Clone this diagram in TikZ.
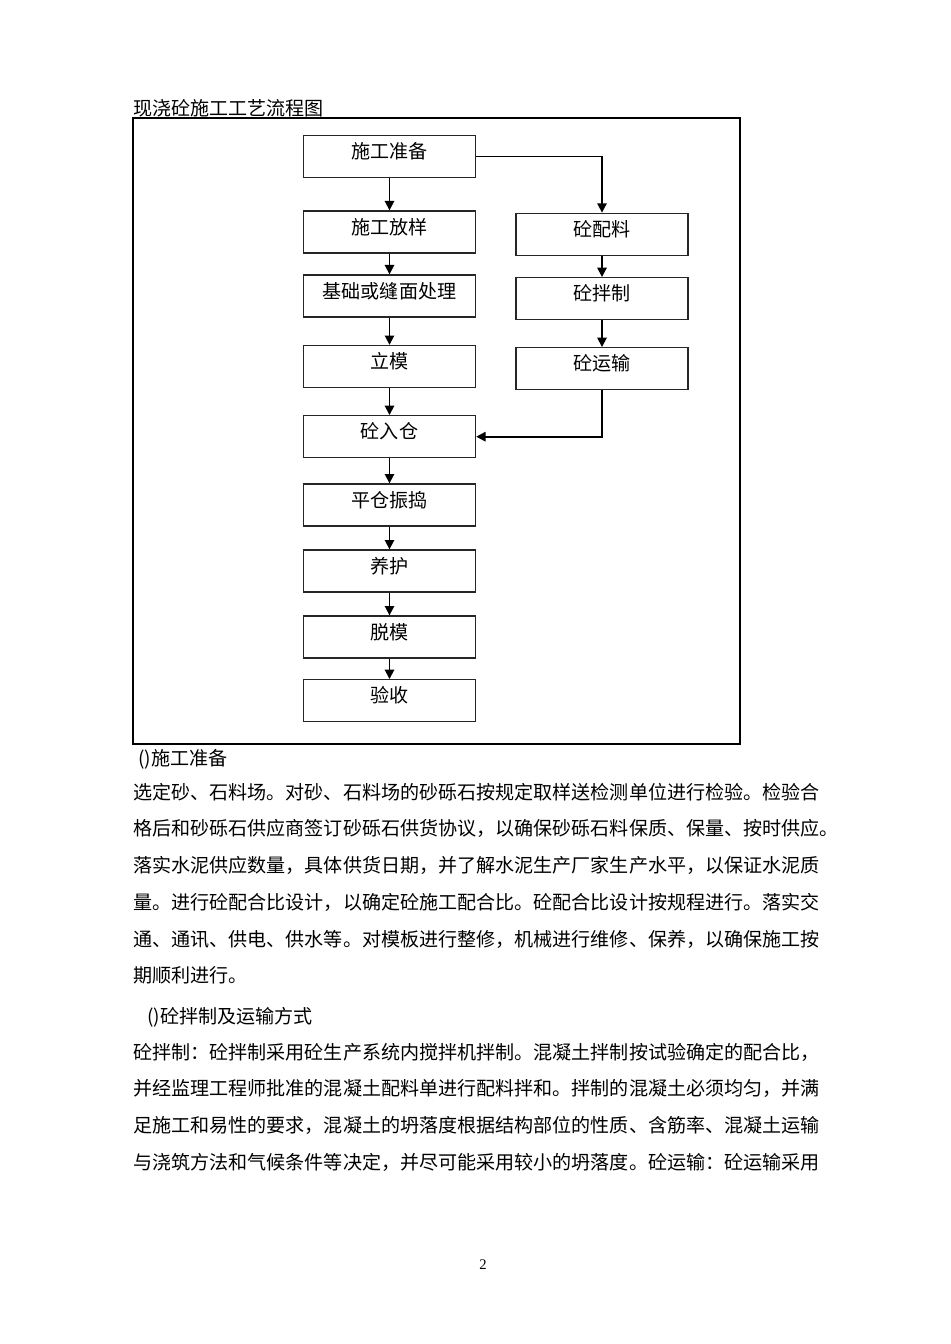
\documentclass[tikz,border=0pt]{standalone}
\usepackage{fontspec}
\setmainfont{Liberation Serif}
\newfontfamily\cjk{Noto Sans CJK SC}
\usetikzlibrary{arrows.meta}

\begin{document}
\begin{tikzpicture}[x=0.75pt,y=-0.75pt,
  box/.style={draw=black!85,line width=1pt,minimum width=129pt,minimum height=31.5pt,
    inner sep=0pt,text height=10pt,text depth=6.7pt,font=\cjk\fontsize{14.3}{14.3}\selectfont},
  flow/.style={line width=1.3pt,-{Triangle[length=7pt,width=7pt]}},
  line/.style={anchor=base west,inner sep=0pt,font=\cjk\fontsize{14.3}{14.3}\selectfont}]
\fill[white] (0,0) rectangle (950,1344);
\useasboundingbox (0,0) rectangle (950,1344);
\node[line] (title) at (133,115.5) {现浇砼施工工艺流程图};
\draw[line width=1.5pt] (133,118) rectangle (740,744);
% left column
\node[box] (prep) at (389.5,156.5) {施工准备};
\node[box] (layout) at (389.5,232) {施工放样};
\node[box] (base) at (389.5,296) {基础或缝面处理};
\node[box] (form) at (389.5,366.5) {立模};
\node[box] (pour) at (389.5,436.7) {砼入仓};
\node[box] (vibr) at (389.5,505) {平仓振捣};
\node[box] (cure) at (389.5,571) {养护};
\node[box] (strip) at (389.5,637) {脱模};
\node[box] (check) at (389.5,700.7) {验收};
% right column
\node[box] (batch) at (602,234.3) {砼配料};
\node[box] (mix) at (602,298.7) {砼拌制};
\node[box] (haul) at (602,368.7) {砼运输};
\draw[flow] (prep) -- (layout);
\draw[flow] (layout) -- (base);
\draw[flow] (base) -- (form);
\draw[flow] (form) -- (pour);
\draw[flow] (pour) -- (vibr);
\draw[flow] (vibr) -- (cure);
\draw[flow] (cure) -- (strip);
\draw[flow] (strip) -- (check);
\draw[flow] (prep.east) -| (batch.north);
\draw[flow] (batch) -- (mix);
\draw[flow] (mix) -- (haul);
\draw[flow] (haul.south) |- (pour.east);
% text below
\node[line] (h1) at (138,765) {()施工准备};
\node[line] (p1) at (133,799) {选定砂、石料场。对砂、石料场的砂砾石按规定取样送检测单位进行检验。检验合};
\node[line] (p2) at (133,835.8) {格后和砂砾石供应商签订砂砾石供货协议，以确保砂砾石料保质、保量、按时供应。};
\node[line] (p3) at (133,872.5) {落实水泥供应数量，具体供货日期，并了解水泥生产厂家生产水平，以保证水泥质};
\node[line] (p4) at (133,909.3) {量。进行砼配合比设计，以确定砼施工配合比。砼配合比设计按规程进行。落实交};
\node[line] (p5) at (133,946) {通、通讯、供电、供水等。对模板进行整修，机械进行维修、保养，以确保施工按};
\node[line] (p6) at (133,982.8) {期顺利进行。};
\node[line] (h2) at (147,1023) {()砼拌制及运输方式};
\node[line] (q1) at (133,1059.3) {砼拌制：砼拌制采用砼生产系统内搅拌机拌制。混凝土拌制按试验确定的配合比，};
\node[line] (q2) at (133,1095.8) {并经监理工程师批准的混凝土配料单进行配料拌和。拌制的混凝土必须均匀，并满};
\node[line] (q3) at (133,1132.3) {足施工和易性的要求，混凝土的坍落度根据结构部位的性质、含筋率、混凝土运输};
\node[line] (q4) at (133,1169) {与浇筑方法和气候条件等决定，并尽可能采用较小的坍落度。砼运输：砼运输采用};
\node[font=\fontsize{11}{11}\selectfont,inner sep=0pt] (pageno) at (483,1265) {2};
\end{tikzpicture}
\end{document}
